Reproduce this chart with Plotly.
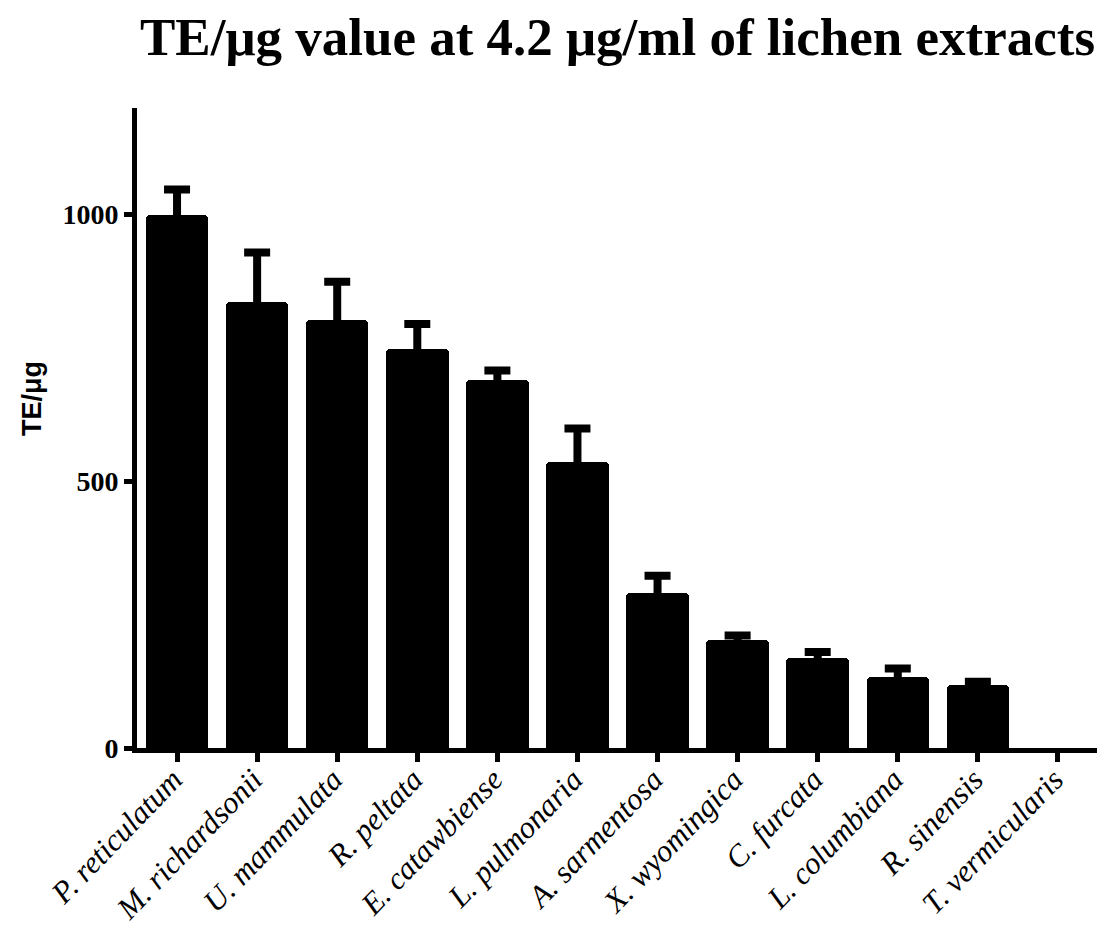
import plotly.graph_objects as go

species = ["P. reticulatum", "M. richardsonii", "U. mammulata", "R. peltata",
           "E. catawbiense", "L. pulmonaria", "A. sarmentosa", "X. wyomingica",
           "C. furcata", "L. columbiana", "R. sinensis", "T. vermicularis"]
te_per_ug = [1000, 836, 802, 748, 690, 537, 290, 202, 168, 134, 118, 0]
sem = [47, 93, 72, 47, 18, 62, 33, 9, 12, 15, 6, None]
y_ticks = [0, 500, 1000]

# page body has an 8px default margin; layout below compensates
OFF = 8
W, H = 1105, 925
plot_left, plot_right = 137 - OFF, 1098 - OFF
plot_top, plot_bottom = 107.5 - OFF, 748.5 - OFF

x_idx = list(range(len(species)))
err_x = [i for i, e in zip(x_idx, sem) if e is not None]
err_y = [v for v, e in zip(te_per_ug, sem) if e is not None]
err_v = [e for e in sem if e is not None]

fig = go.Figure()
fig.add_trace(go.Bar(
    x=x_idx,
    y=te_per_ug,
    width=0.78,
    marker=dict(color="black", line=dict(width=0), cornerradius=4),
    showlegend=False,
))
fig.add_trace(go.Scatter(
    x=err_x, y=err_y, mode="markers",
    marker=dict(size=1, color="black", opacity=0),
    error_y=dict(type="data", array=err_v, symmetric=True, color="black",
                 thickness=8, width=13),
    showlegend=False, hoverinfo="skip",
))

fig.update_layout(
    width=W, height=H,
    paper_bgcolor="white", plot_bgcolor="white",
    margin=dict(l=plot_left, r=W - plot_right, t=plot_top, b=H - plot_bottom,
                autoexpand=False),
    title=dict(text="<b>TE/μg value at 4.2 μg/ml of lichen extracts</b>",
               font=dict(family="Liberation Serif", size=53, color="black"),
               x=0.5, xref="paper", xanchor="center",
               y=1 - (36 - OFF) / H, yref="container", yanchor="middle"),
    bargap=0,
)

fig.update_xaxes(
    range=[-0.5, 11.5],
    tickmode="array", tickvals=x_idx, ticktext=species,
    tickangle=-46,
    tickfont=dict(family="Liberation Serif", size=31, style="italic", color="black"),
    ticklabelstandoff=-13, ticklabelshift=-4,
    showline=True, linecolor="black", linewidth=5,
    ticks="outside", ticklen=9, tickwidth=5, tickcolor="black",
    showgrid=False, zeroline=False,
)
fig.update_yaxes(
    range=[0, 1200],
    tickmode="array", tickvals=y_ticks, ticktext=[str(v) for v in y_ticks],
    tickfont=dict(family="Liberation Serif", size=28, color="black", weight="bold"),
    showline=True, linecolor="black", linewidth=5,
    ticks="outside", ticklen=8, tickwidth=5, tickcolor="black",
    showgrid=False, zeroline=False,
)

pw = plot_right - plot_left
ph = plot_bottom - plot_top
fig.add_annotation(
    text="<b>TE/μg</b>", textangle=-90,
    xref="paper", yref="paper",
    x=((32 - OFF) - plot_left) / pw, y=(plot_bottom - (399 - OFF)) / ph,
    xanchor="center", yanchor="middle", showarrow=False,
    font=dict(family="Liberation Sans", size=27, color="black"),
)

fig.write_html("out.html")
